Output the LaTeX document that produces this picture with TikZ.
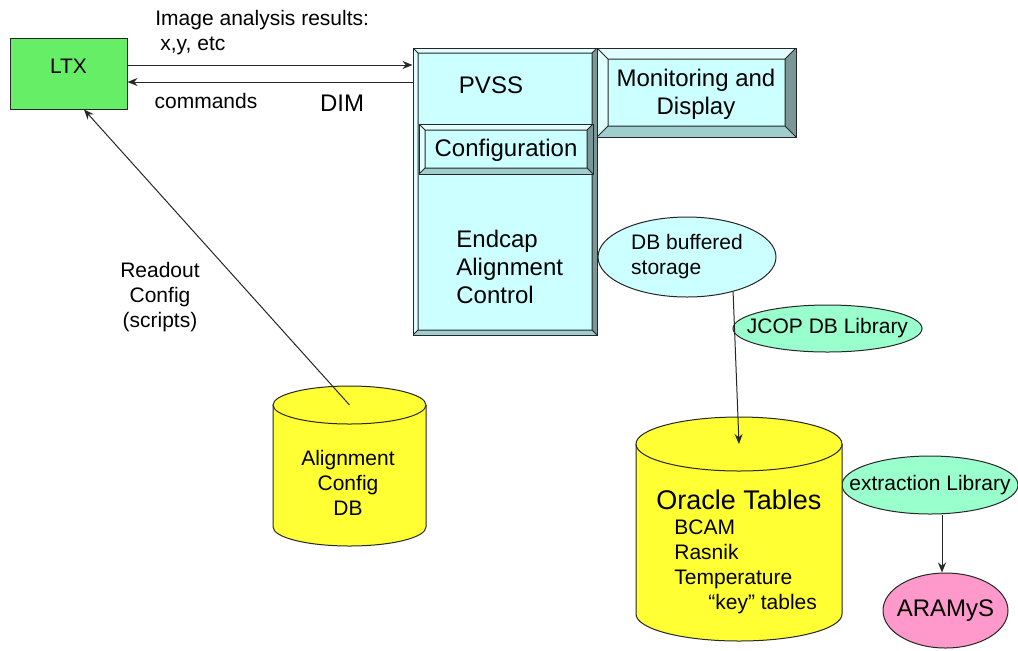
\documentclass[tikz,border=0pt]{standalone}
\usepackage{fontspec}
\setmainfont{Liberation Sans}
\usetikzlibrary{positioning}
\usetikzlibrary{fit}
\usetikzlibrary{shapes.geometric}
\usetikzlibrary{arrows.meta}
\definecolor{ltxgreen}{RGB}{102,238,102}
\definecolor{drumyellow}{RGB}{255,255,51}
\definecolor{libgreen}{RGB}{153,255,204}
\definecolor{aramyspink}{RGB}{255,153,204}
\definecolor{bevface}{RGB}{204,255,255}
\definecolor{bevlight}{RGB}{226,255,255}
\definecolor{bevmid}{RGB}{160,206,206}
\definecolor{bevdark}{RGB}{122,150,150}
% database drum: name, centre x, top y, x radius, y radius, body height (pixels)
\newcommand \drum [6] {
	\fill[drumyellow] ({#2-#4},#3) -- ({#2-#4},{#3+#6})
		arc[start angle=180, end angle=360, x radius=#4*0.5pt, y radius=#5*0.5pt]
		-- ({#2+#4},#3) -- cycle ;
	\draw[line] ({#2-#4},#3) -- ({#2-#4},{#3+#6})
		arc[start angle=180, end angle=360, x radius=#4*0.5pt, y radius=#5*0.5pt]
		-- ({#2+#4},#3) ;
	\draw[line, fill=drumyellow] (#2,#3) ellipse [x radius=#4*0.5pt, y radius=#5*0.5pt] ;
	\coordinate (#1) at (#2,#3) ;
}
\tikzset{
	line/.style={draw=black!85, line width=0.5pt},
	txt/.style={font=\fontsize{10.5}{12.5}\selectfont, inner sep=0pt},
	bigtxt/.style={font=\fontsize{12}{14}\selectfont, inner sep=0pt},
	oval/.style={ellipse, line, inner sep=0pt},
	bevelbox/.style={
		line, fill=bevface, inner sep=0pt,
		path picture={
			\path (path picture bounding box.north west) coordinate (o1)
				(path picture bounding box.north east) coordinate (o2)
				(path picture bounding box.south east) coordinate (o3)
				(path picture bounding box.south west) coordinate (o4)
				([shift={(#1,-#1)}]o1) coordinate (i1)
				([shift={(-#1,-#1)}]o2) coordinate (i2)
				([shift={(-#1,#1)}]o3) coordinate (i3)
				([shift={(#1,#1)}]o4) coordinate (i4) ;
			\fill[bevlight] (o1) -- (o2) -- (i2) -- (i1) -- cycle ;
			\fill[bevlight] (o1) -- (i1) -- (i4) -- (o4) -- cycle ;
			\fill[bevdark] (o2) -- (o3) -- (i3) -- (i2) -- cycle ;
			\fill[bevmid] (o4) -- (i4) -- (i3) -- (o3) -- cycle ;
			\draw[line] (i1) rectangle (i3) (o1) -- (i1) (o2) -- (i2) (o3) -- (i3) (o4) -- (i4) ;
		}
	},
	bevelbox/.default={2.5pt},
	>={Stealth[length=5pt, width=4pt]}
}

\begin{document}
\begin{tikzpicture}[x=0.5pt, y=-0.5pt]
	\useasboundingbox (0,0) rectangle (1018,650) ;

	% boxes
	\node[line, fill=ltxgreen, inner sep=0pt, fit={(10,38) (127,109)}, txt] (ltx) {LTX} ;
	\node[bevelbox=2.5pt, fit={(413,48) (597,335)}] (pvss) {} ;
	\node[bevelbox=3pt, fit={(419,124) (593,174)}] (config) {} ;
	\node[bevelbox=5.5pt, fit={(597,48) (796,137)}] (monitor) {} ;

	\node[bigtxt] at (491,85) {PVSS} ;
	\node[bigtxt] at (506,150) {Configuration} ;
	\node[bigtxt, align=left, anchor=west] at (456,267) {Endcap\\Alignment\\Control} ;
	\node[bigtxt, align=center] at (696,94) {Monitoring and\\Display} ;

	% ovals
	\node[oval, fill=bevface, minimum width=89pt, minimum height=40pt,
		label={[txt, align=left]center:DB buffered\\storage}] (dbbuf) at (687,257) {} ;
	\node[oval, fill=libgreen, minimum width=94.5pt, minimum height=23.5pt,
		label={[txt]center:JCOP DB Library}] (jcop) at (827.5,328.5) {} ;
	\node[oval, fill=libgreen, minimum width=88pt, minimum height=29pt,
		label={[txt]center:extraction Library}] (extract) at (930,485) {} ;
	\node[oval, fill=aramyspink, minimum width=62.5pt, minimum height=37.5pt,
		label={[bigtxt]center:ARAMyS}] (aramys) at (945.5,610.5) {} ;

	% databases
	\drum{acfg}{349.5}{405}{76.5}{19}{122}
	\drum{oracle}{739}{444}{103}{27}{170}
	\node[txt, align=center] at (348,483) {Alignment\\Config\\DB} ;
	\node[font=\fontsize{13.5}{15}\selectfont, inner sep=0pt, anchor=west] at (656,500) {Oracle Tables} ;
	\node[txt, align=left, anchor=west] at (674,567) {BCAM\\Rasnik\\Temperature\\\hspace*{17pt}“key” tables} ;

	% connectors
	\draw[line, ->] ([yshift=4.25pt]ltx.east) -- ([yshift=4.25pt]ltx.east -| pvss.west) ;
	\draw[line, ->] ([yshift=-4.25pt]ltx.east -| pvss.west) -- ([yshift=-4.25pt]ltx.east) ;
	\draw[line, ->] (acfg) -- ([xshift=7.75pt]ltx.south) ;
	\draw[line, ->] (dbbuf.-37.5) -- (oracle) ;
	\draw[line, ->] ([xshift=6pt]extract.south) -- ([xshift=6pt]extract.south |- aramys.north) ;

	% link labels
	\node[txt, align=left, anchor=west] at (155,33) {Image analysis results:\\\hspace*{2.5pt}x,y, etc} ;
	\node[txt] at (206,101) {commands} ;
	\node[bigtxt] at (342,103) {DIM} ;
	\node[txt, align=center] at (160,297) {Readout\\Config\\(scripts)} ;
\end{tikzpicture}
\end{document}
